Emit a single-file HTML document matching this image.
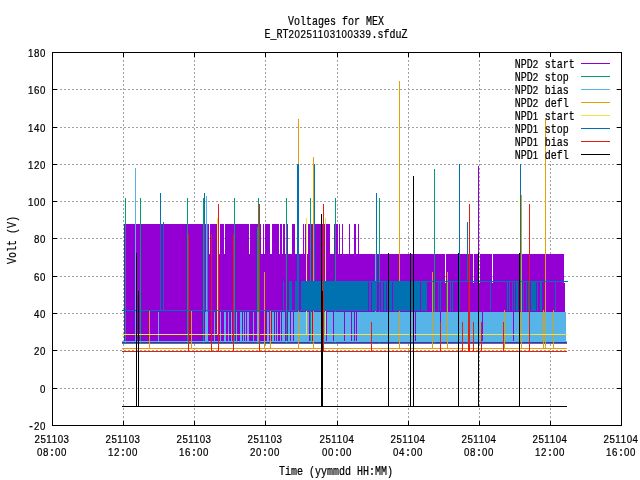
<!DOCTYPE html>
<html lang="en">
<head>
<meta charset="utf-8">
<title>Voltages for MEX</title>
<style>
html,body{margin:0;padding:0;background:#fff;}
body{width:640px;height:480px;overflow:hidden;}
svg{display:block;}
svg text .d{font-family:"Liberation Sans", sans-serif;font-size:9.7px;letter-spacing:0.6px;}
svg text{font-family:"Liberation Mono", monospace;font-size:10px;fill:#000;stroke:#000;stroke-width:0.2px;}
</style>
</head>
<body>
<svg width="640" height="480" viewBox="0 0 640 480">
<rect x="0" y="0" width="640" height="480" fill="#fff"/>
<g shape-rendering="crispEdges" stroke="#a0a0a0" stroke-width="1" stroke-dasharray="2 2" fill="none">
<line x1="123.5" y1="52" x2="123.5" y2="425" />
<line x1="194.5" y1="52" x2="194.5" y2="425" />
<line x1="265.5" y1="52" x2="265.5" y2="425" />
<line x1="337.5" y1="52" x2="337.5" y2="425" />
<line x1="408.5" y1="52" x2="408.5" y2="425" />
<line x1="479.5" y1="52" x2="479.5" y2="425" />
<line x1="550.5" y1="52" x2="550.5" y2="425" />
<line x1="52" y1="89.5" x2="621" y2="89.5" />
<line x1="52" y1="127.5" x2="621" y2="127.5" />
<line x1="52" y1="164.5" x2="621" y2="164.5" />
<line x1="52" y1="201.5" x2="621" y2="201.5" />
<line x1="52" y1="238.5" x2="621" y2="238.5" />
<line x1="52" y1="276.5" x2="621" y2="276.5" />
<line x1="52" y1="313.5" x2="621" y2="313.5" />
<line x1="52" y1="350.5" x2="621" y2="350.5" />
<line x1="52" y1="388.5" x2="621" y2="388.5" />
</g>
<rect x="513" y="57" width="103" height="104" fill="#fff"/>
<g shape-rendering="crispEdges">
<rect x="124" y="224" width="85" height="30" fill="#9400D3"/>
<rect x="210" y="224" width="9" height="30" fill="#9400D3"/>
<rect x="220" y="224" width="4" height="30" fill="#9400D3"/>
<rect x="225" y="224" width="24" height="30" fill="#9400D3"/>
<rect x="250" y="224" width="11" height="30" fill="#9400D3"/>
<rect x="263" y="224" width="1" height="30" fill="#9400D3"/>
<rect x="265" y="224" width="5" height="30" fill="#9400D3"/>
<rect x="272" y="224" width="7" height="30" fill="#9400D3"/>
<rect x="280" y="224" width="2" height="30" fill="#9400D3"/>
<rect x="283" y="224" width="2" height="30" fill="#9400D3"/>
<rect x="286" y="224" width="2" height="30" fill="#9400D3"/>
<rect x="292" y="224" width="3" height="30" fill="#9400D3"/>
<rect x="297" y="224" width="2" height="30" fill="#9400D3"/>
<rect x="303" y="224" width="1" height="30" fill="#9400D3"/>
<rect x="305" y="224" width="2" height="30" fill="#9400D3"/>
<rect x="308" y="224" width="22" height="30" fill="#9400D3"/>
<rect x="334" y="224" width="1" height="30" fill="#9400D3"/>
<rect x="336" y="224" width="2" height="30" fill="#9400D3"/>
<rect x="339" y="224" width="1" height="30" fill="#9400D3"/>
<rect x="342" y="224" width="1" height="30" fill="#9400D3"/>
<rect x="349" y="224" width="1" height="30" fill="#9400D3"/>
<rect x="354" y="224" width="2" height="30" fill="#9400D3"/>
<rect x="358" y="224" width="1" height="30" fill="#9400D3"/>
<rect x="124" y="254" width="321" height="29" fill="#9400D3"/>
<rect x="446" y="254" width="27" height="29" fill="#9400D3"/>
<rect x="474" y="254" width="5" height="29" fill="#9400D3"/>
<rect x="480" y="254" width="12" height="29" fill="#9400D3"/>
<rect x="493" y="254" width="71" height="29" fill="#9400D3"/>
<rect x="124" y="283" width="441" height="60" fill="#9400D3"/>
<rect x="478" y="166" width="1" height="88" fill="#9400D3"/>
<rect x="473" y="254" width="1" height="29" fill="#9400D3" fill-opacity="0.15"/>
<rect x="122" y="342" width="445" height="1" fill="#9400D3"/>
<rect x="122" y="343" width="445" height="1" fill="#009E73"/>
<rect x="125" y="198" width="1" height="146" fill="#009E73"/>
<rect x="140" y="198" width="1" height="146" fill="#009E73"/>
<rect x="187" y="198" width="1" height="146" fill="#009E73"/>
<rect x="203" y="198" width="1" height="146" fill="#009E73"/>
<rect x="234" y="198" width="1" height="146" fill="#009E73"/>
<rect x="258" y="198" width="1" height="146" fill="#009E73"/>
<rect x="286" y="198" width="1" height="146" fill="#009E73"/>
<rect x="310" y="198" width="1" height="146" fill="#009E73"/>
<rect x="335" y="198" width="1" height="146" fill="#009E73"/>
<rect x="379" y="198" width="1" height="146" fill="#009E73"/>
<rect x="257" y="227" width="1" height="117" fill="#009E73"/>
<rect x="434" y="169" width="1" height="175" fill="#009E73"/>
<rect x="122" y="341" width="445" height="1" fill="#56B4E9"/>
<rect x="135" y="168" width="1" height="174" fill="#56B4E9"/>
<rect x="206" y="196" width="1" height="146" fill="#56B4E9"/>
<rect x="207" y="224" width="1" height="118" fill="#56B4E9" fill-opacity="0.5"/>
<rect x="375" y="254" width="1" height="88" fill="#56B4E9"/>
<rect x="158" y="312" width="1" height="30" fill="#56B4E9"/>
<rect x="205" y="312" width="1" height="30" fill="#56B4E9"/>
<rect x="206" y="312" width="1" height="30" fill="#56B4E9"/>
<rect x="207" y="312" width="1" height="30" fill="#56B4E9"/>
<rect x="214" y="312" width="1" height="30" fill="#56B4E9"/>
<rect x="220" y="312" width="1" height="30" fill="#56B4E9"/>
<rect x="224" y="312" width="1" height="30" fill="#56B4E9"/>
<rect x="225" y="312" width="1" height="30" fill="#56B4E9"/>
<rect x="228" y="312" width="1" height="30" fill="#56B4E9"/>
<rect x="231" y="312" width="1" height="30" fill="#56B4E9"/>
<rect x="236" y="312" width="1" height="30" fill="#56B4E9"/>
<rect x="240" y="312" width="1" height="30" fill="#56B4E9"/>
<rect x="241" y="312" width="1" height="30" fill="#56B4E9"/>
<rect x="243" y="312" width="1" height="30" fill="#56B4E9"/>
<rect x="245" y="312" width="1" height="30" fill="#56B4E9"/>
<rect x="247" y="312" width="1" height="30" fill="#56B4E9"/>
<rect x="248" y="312" width="1" height="30" fill="#56B4E9"/>
<rect x="253" y="312" width="1" height="30" fill="#56B4E9"/>
<rect x="257" y="312" width="1" height="30" fill="#56B4E9"/>
<rect x="258" y="312" width="1" height="30" fill="#56B4E9"/>
<rect x="267" y="312" width="1" height="30" fill="#56B4E9"/>
<rect x="268" y="312" width="1" height="30" fill="#56B4E9"/>
<rect x="272" y="312" width="1" height="30" fill="#56B4E9"/>
<rect x="273" y="312" width="1" height="30" fill="#56B4E9"/>
<rect x="275" y="312" width="1" height="30" fill="#56B4E9"/>
<rect x="277" y="312" width="1" height="30" fill="#56B4E9"/>
<rect x="280" y="312" width="1" height="30" fill="#56B4E9"/>
<rect x="282" y="312" width="1" height="30" fill="#56B4E9"/>
<rect x="283" y="312" width="1" height="30" fill="#56B4E9"/>
<rect x="284" y="312" width="1" height="30" fill="#56B4E9"/>
<rect x="288" y="312" width="1" height="30" fill="#56B4E9"/>
<rect x="289" y="312" width="1" height="30" fill="#56B4E9"/>
<rect x="291" y="312" width="1" height="30" fill="#56B4E9"/>
<rect x="292" y="312" width="1" height="30" fill="#56B4E9"/>
<rect x="294" y="312" width="15" height="30" fill="#56B4E9"/>
<rect x="311" y="312" width="1" height="30" fill="#56B4E9"/>
<rect x="313" y="312" width="13" height="30" fill="#56B4E9"/>
<rect x="327" y="312" width="6" height="30" fill="#56B4E9"/>
<rect x="334" y="312" width="10" height="30" fill="#56B4E9"/>
<rect x="345" y="312" width="6" height="30" fill="#56B4E9"/>
<rect x="352" y="312" width="2" height="30" fill="#56B4E9"/>
<rect x="355" y="312" width="1" height="30" fill="#56B4E9"/>
<rect x="357" y="312" width="58" height="30" fill="#56B4E9"/>
<rect x="416" y="312" width="66" height="30" fill="#56B4E9"/>
<rect x="483" y="312" width="30" height="30" fill="#56B4E9"/>
<rect x="514" y="312" width="52" height="30" fill="#56B4E9"/>
<rect x="440" y="312" width="1" height="11" fill="#9400D3"/>
<rect x="122" y="348" width="445" height="1" fill="#E69F00"/>
<rect x="149" y="311" width="1" height="38" fill="#E69F00"/>
<rect x="191" y="311" width="1" height="38" fill="#E69F00"/>
<rect x="264" y="272" width="1" height="77" fill="#E69F00"/>
<rect x="270" y="311" width="1" height="38" fill="#E69F00"/>
<rect x="298" y="119" width="1" height="230" fill="#E69F00"/>
<rect x="313" y="157" width="1" height="192" fill="#E69F00"/>
<rect x="399" y="81" width="1" height="268" fill="#E69F00"/>
<rect x="432" y="272" width="1" height="77" fill="#E69F00"/>
<rect x="447" y="272" width="1" height="77" fill="#E69F00"/>
<rect x="504" y="310" width="1" height="39" fill="#E69F00"/>
<rect x="521" y="195" width="1" height="154" fill="#E69F00"/>
<rect x="543" y="310" width="1" height="39" fill="#E69F00"/>
<rect x="545" y="119" width="1" height="230" fill="#E69F00"/>
<rect x="553" y="310" width="1" height="39" fill="#E69F00"/>
<rect x="122" y="334" width="445" height="1" fill="#F0E442"/>
<rect x="217" y="218" width="1" height="117" fill="#F0E442"/>
<rect x="306" y="218" width="1" height="117" fill="#F0E442"/>
<rect x="325" y="218" width="1" height="117" fill="#F0E442"/>
<rect x="122" y="310" width="246" height="1" fill="#0072B2"/>
<rect x="368" y="281" width="200" height="1" fill="#0072B2"/>
<rect x="160" y="193" width="1" height="118" fill="#0072B2"/>
<rect x="163" y="222" width="1" height="89" fill="#0072B2"/>
<rect x="204" y="193" width="1" height="118" fill="#0072B2"/>
<rect x="297" y="164" width="1" height="147" fill="#0072B2"/>
<rect x="298" y="164" width="1" height="147" fill="#0072B2"/>
<rect x="314" y="164" width="1" height="147" fill="#0072B2"/>
<rect x="376" y="193" width="1" height="118" fill="#0072B2"/>
<rect x="459" y="164" width="1" height="147" fill="#0072B2"/>
<rect x="520" y="164" width="1" height="147" fill="#0072B2"/>
<rect x="467" y="222" width="1" height="60" fill="#0072B2"/>
<rect x="468" y="254" width="1" height="58" fill="#E51E10" fill-opacity="0.45"/>
<rect x="283" y="281" width="1" height="30" fill="#0072B2"/>
<rect x="289" y="281" width="1" height="30" fill="#0072B2"/>
<rect x="290" y="281" width="1" height="30" fill="#0072B2"/>
<rect x="291" y="281" width="1" height="30" fill="#0072B2"/>
<rect x="295" y="281" width="1" height="30" fill="#0072B2"/>
<rect x="296" y="281" width="1" height="30" fill="#0072B2"/>
<rect x="297" y="281" width="1" height="30" fill="#0072B2"/>
<rect x="298" y="281" width="1" height="30" fill="#0072B2"/>
<rect x="301" y="281" width="1" height="30" fill="#0072B2"/>
<rect x="302" y="281" width="1" height="30" fill="#0072B2"/>
<rect x="303" y="281" width="1" height="30" fill="#0072B2"/>
<rect x="304" y="281" width="1" height="30" fill="#0072B2"/>
<rect x="305" y="281" width="1" height="30" fill="#0072B2"/>
<rect x="306" y="281" width="1" height="30" fill="#0072B2"/>
<rect x="307" y="281" width="1" height="30" fill="#0072B2"/>
<rect x="308" y="281" width="1" height="30" fill="#0072B2"/>
<rect x="309" y="281" width="1" height="30" fill="#0072B2"/>
<rect x="310" y="281" width="1" height="30" fill="#0072B2"/>
<rect x="311" y="281" width="1" height="30" fill="#0072B2"/>
<rect x="312" y="281" width="1" height="30" fill="#0072B2"/>
<rect x="313" y="281" width="1" height="30" fill="#0072B2"/>
<rect x="314" y="281" width="1" height="30" fill="#0072B2"/>
<rect x="315" y="281" width="1" height="30" fill="#0072B2"/>
<rect x="316" y="281" width="1" height="30" fill="#0072B2"/>
<rect x="317" y="281" width="1" height="30" fill="#0072B2"/>
<rect x="318" y="281" width="1" height="30" fill="#0072B2"/>
<rect x="319" y="281" width="1" height="30" fill="#0072B2"/>
<rect x="320" y="281" width="1" height="30" fill="#0072B2"/>
<rect x="321" y="281" width="1" height="30" fill="#0072B2"/>
<rect x="322" y="281" width="1" height="30" fill="#0072B2"/>
<rect x="323" y="281" width="1" height="30" fill="#0072B2"/>
<rect x="324" y="281" width="1" height="30" fill="#0072B2"/>
<rect x="325" y="281" width="1" height="30" fill="#0072B2"/>
<rect x="326" y="281" width="1" height="30" fill="#0072B2"/>
<rect x="327" y="281" width="1" height="30" fill="#0072B2"/>
<rect x="328" y="281" width="1" height="30" fill="#0072B2"/>
<rect x="329" y="281" width="1" height="30" fill="#0072B2"/>
<rect x="330" y="281" width="1" height="30" fill="#0072B2"/>
<rect x="331" y="281" width="1" height="30" fill="#0072B2"/>
<rect x="332" y="281" width="1" height="30" fill="#0072B2"/>
<rect x="333" y="281" width="1" height="30" fill="#0072B2"/>
<rect x="334" y="281" width="1" height="30" fill="#0072B2"/>
<rect x="335" y="281" width="1" height="30" fill="#0072B2"/>
<rect x="336" y="281" width="1" height="30" fill="#0072B2"/>
<rect x="337" y="281" width="1" height="30" fill="#0072B2"/>
<rect x="338" y="281" width="1" height="30" fill="#0072B2"/>
<rect x="339" y="281" width="1" height="30" fill="#0072B2"/>
<rect x="340" y="281" width="1" height="30" fill="#0072B2"/>
<rect x="341" y="281" width="1" height="30" fill="#0072B2"/>
<rect x="342" y="281" width="1" height="30" fill="#0072B2"/>
<rect x="343" y="281" width="1" height="30" fill="#0072B2"/>
<rect x="344" y="281" width="1" height="30" fill="#0072B2"/>
<rect x="345" y="281" width="1" height="30" fill="#0072B2"/>
<rect x="346" y="281" width="1" height="30" fill="#0072B2"/>
<rect x="347" y="281" width="1" height="30" fill="#0072B2"/>
<rect x="348" y="281" width="1" height="30" fill="#0072B2"/>
<rect x="349" y="281" width="1" height="30" fill="#0072B2"/>
<rect x="350" y="281" width="1" height="30" fill="#0072B2"/>
<rect x="351" y="281" width="1" height="30" fill="#0072B2"/>
<rect x="352" y="281" width="1" height="30" fill="#0072B2"/>
<rect x="353" y="281" width="1" height="30" fill="#0072B2"/>
<rect x="354" y="281" width="1" height="30" fill="#0072B2"/>
<rect x="355" y="281" width="1" height="30" fill="#0072B2"/>
<rect x="356" y="281" width="1" height="30" fill="#0072B2"/>
<rect x="357" y="281" width="1" height="30" fill="#0072B2"/>
<rect x="358" y="281" width="1" height="30" fill="#0072B2"/>
<rect x="359" y="281" width="1" height="30" fill="#0072B2"/>
<rect x="360" y="281" width="1" height="30" fill="#0072B2"/>
<rect x="361" y="281" width="1" height="30" fill="#0072B2"/>
<rect x="362" y="281" width="1" height="30" fill="#0072B2"/>
<rect x="363" y="281" width="1" height="30" fill="#0072B2"/>
<rect x="364" y="281" width="1" height="30" fill="#0072B2"/>
<rect x="365" y="281" width="1" height="30" fill="#0072B2"/>
<rect x="366" y="281" width="1" height="30" fill="#0072B2"/>
<rect x="367" y="281" width="1" height="30" fill="#0072B2"/>
<rect x="369" y="281" width="1" height="30" fill="#0072B2"/>
<rect x="370" y="281" width="1" height="30" fill="#0072B2"/>
<rect x="372" y="281" width="1" height="30" fill="#0072B2"/>
<rect x="373" y="281" width="1" height="30" fill="#0072B2"/>
<rect x="374" y="281" width="1" height="30" fill="#0072B2"/>
<rect x="375" y="281" width="1" height="30" fill="#0072B2"/>
<rect x="376" y="281" width="1" height="30" fill="#0072B2"/>
<rect x="379" y="281" width="1" height="30" fill="#0072B2"/>
<rect x="381" y="281" width="1" height="30" fill="#0072B2"/>
<rect x="382" y="281" width="1" height="30" fill="#0072B2"/>
<rect x="384" y="281" width="1" height="30" fill="#0072B2"/>
<rect x="385" y="281" width="1" height="30" fill="#0072B2"/>
<rect x="387" y="281" width="1" height="30" fill="#0072B2"/>
<rect x="389" y="281" width="1" height="30" fill="#0072B2"/>
<rect x="390" y="281" width="1" height="30" fill="#0072B2"/>
<rect x="391" y="281" width="1" height="30" fill="#0072B2"/>
<rect x="393" y="281" width="1" height="30" fill="#0072B2"/>
<rect x="394" y="281" width="1" height="30" fill="#0072B2"/>
<rect x="395" y="281" width="1" height="30" fill="#0072B2"/>
<rect x="396" y="281" width="1" height="30" fill="#0072B2"/>
<rect x="397" y="281" width="1" height="30" fill="#0072B2"/>
<rect x="398" y="281" width="1" height="30" fill="#0072B2"/>
<rect x="399" y="281" width="1" height="30" fill="#0072B2"/>
<rect x="400" y="281" width="1" height="30" fill="#0072B2"/>
<rect x="401" y="281" width="1" height="30" fill="#0072B2"/>
<rect x="402" y="281" width="1" height="30" fill="#0072B2"/>
<rect x="403" y="281" width="1" height="30" fill="#0072B2"/>
<rect x="404" y="281" width="1" height="30" fill="#0072B2"/>
<rect x="405" y="281" width="1" height="30" fill="#0072B2"/>
<rect x="406" y="281" width="1" height="30" fill="#0072B2"/>
<rect x="407" y="281" width="1" height="30" fill="#0072B2"/>
<rect x="408" y="281" width="1" height="30" fill="#0072B2"/>
<rect x="409" y="281" width="1" height="30" fill="#0072B2"/>
<rect x="410" y="281" width="1" height="30" fill="#0072B2"/>
<rect x="411" y="281" width="1" height="30" fill="#0072B2"/>
<rect x="412" y="281" width="1" height="30" fill="#0072B2"/>
<rect x="413" y="281" width="1" height="30" fill="#0072B2"/>
<rect x="414" y="281" width="1" height="30" fill="#0072B2"/>
<rect x="415" y="281" width="1" height="30" fill="#0072B2"/>
<rect x="416" y="281" width="1" height="30" fill="#0072B2"/>
<rect x="417" y="281" width="1" height="30" fill="#0072B2"/>
<rect x="418" y="281" width="1" height="30" fill="#0072B2"/>
<rect x="419" y="281" width="1" height="30" fill="#0072B2"/>
<rect x="421" y="281" width="1" height="30" fill="#0072B2"/>
<rect x="422" y="281" width="1" height="30" fill="#0072B2"/>
<rect x="423" y="281" width="1" height="30" fill="#0072B2"/>
<rect x="424" y="281" width="1" height="30" fill="#0072B2"/>
<rect x="425" y="281" width="1" height="30" fill="#0072B2"/>
<rect x="426" y="281" width="1" height="30" fill="#0072B2"/>
<rect x="433" y="281" width="1" height="30" fill="#0072B2"/>
<rect x="438" y="281" width="1" height="30" fill="#0072B2"/>
<rect x="440" y="281" width="1" height="30" fill="#0072B2"/>
<rect x="446" y="281" width="1" height="30" fill="#0072B2"/>
<rect x="450" y="281" width="1" height="30" fill="#0072B2"/>
<rect x="452" y="281" width="1" height="30" fill="#0072B2"/>
<rect x="459" y="281" width="1" height="30" fill="#0072B2"/>
<rect x="490" y="281" width="1" height="30" fill="#0072B2"/>
<rect x="507" y="281" width="1" height="30" fill="#0072B2"/>
<rect x="509" y="281" width="1" height="30" fill="#0072B2"/>
<rect x="512" y="281" width="1" height="30" fill="#0072B2"/>
<rect x="514" y="281" width="1" height="30" fill="#0072B2"/>
<rect x="516" y="281" width="1" height="30" fill="#0072B2"/>
<rect x="517" y="281" width="1" height="30" fill="#0072B2"/>
<rect x="520" y="281" width="1" height="30" fill="#0072B2"/>
<rect x="523" y="281" width="1" height="30" fill="#0072B2"/>
<rect x="526" y="281" width="1" height="30" fill="#0072B2"/>
<rect x="528" y="281" width="1" height="30" fill="#0072B2"/>
<rect x="531" y="281" width="1" height="30" fill="#0072B2"/>
<rect x="532" y="281" width="1" height="30" fill="#0072B2"/>
<rect x="533" y="281" width="1" height="30" fill="#0072B2"/>
<rect x="534" y="281" width="1" height="30" fill="#0072B2"/>
<rect x="535" y="281" width="1" height="30" fill="#0072B2"/>
<rect x="537" y="281" width="1" height="30" fill="#0072B2"/>
<rect x="540" y="281" width="1" height="30" fill="#0072B2"/>
<rect x="541" y="281" width="1" height="30" fill="#0072B2"/>
<rect x="555" y="281" width="1" height="30" fill="#0072B2"/>
<rect x="122" y="351" width="445" height="1" fill="#E51E10"/>
<rect x="188" y="234" width="1" height="118" fill="#E51E10"/>
<rect x="211" y="234" width="1" height="118" fill="#E51E10"/>
<rect x="218" y="204" width="1" height="148" fill="#E51E10"/>
<rect x="233" y="234" width="1" height="118" fill="#E51E10"/>
<rect x="259" y="204" width="1" height="148" fill="#E51E10"/>
<rect x="323" y="204" width="1" height="148" fill="#E51E10"/>
<rect x="371" y="322" width="1" height="30" fill="#E51E10"/>
<rect x="440" y="322" width="1" height="30" fill="#E51E10"/>
<rect x="462" y="322" width="1" height="30" fill="#E51E10"/>
<rect x="468" y="312" width="1" height="40" fill="#E51E10"/>
<rect x="469" y="204" width="1" height="148" fill="#E51E10"/>
<rect x="473" y="322" width="1" height="30" fill="#E51E10"/>
<rect x="481" y="322" width="1" height="30" fill="#E51E10"/>
<rect x="503" y="322" width="1" height="30" fill="#E51E10"/>
<rect x="529" y="204" width="1" height="148" fill="#E51E10"/>
<rect x="122" y="406" width="445" height="1" fill="#000000"/>
<rect x="136" y="253" width="1" height="154" fill="#000000"/>
<rect x="138" y="291" width="1" height="116" fill="#000000"/>
<rect x="321" y="214" width="1" height="193" fill="#000000"/>
<rect x="322" y="291" width="1" height="116" fill="#000000"/>
<rect x="388" y="253" width="1" height="154" fill="#000000"/>
<rect x="410" y="253" width="1" height="154" fill="#000000"/>
<rect x="413" y="176" width="1" height="231" fill="#000000"/>
<rect x="458" y="253" width="1" height="154" fill="#000000"/>
<rect x="478" y="253" width="1" height="154" fill="#000000"/>
<rect x="519" y="253" width="1" height="154" fill="#000000"/>
</g>
<g shape-rendering="crispEdges" fill="#000">
<rect x="52" y="52" width="570" height="1"/><rect x="52" y="425" width="570" height="1"/><rect x="52" y="52" width="1" height="374"/><rect x="621" y="52" width="1" height="374"/>
<rect x="123" y="421" width="1" height="5"/><rect x="123" y="52" width="1" height="5"/><rect x="194" y="421" width="1" height="5"/><rect x="194" y="52" width="1" height="5"/><rect x="265" y="421" width="1" height="5"/><rect x="265" y="52" width="1" height="5"/><rect x="337" y="421" width="1" height="5"/><rect x="337" y="52" width="1" height="5"/><rect x="408" y="421" width="1" height="5"/><rect x="408" y="52" width="1" height="5"/><rect x="479" y="421" width="1" height="5"/><rect x="479" y="52" width="1" height="5"/><rect x="550" y="421" width="1" height="5"/><rect x="550" y="52" width="1" height="5"/><rect x="52" y="89" width="5" height="1"/><rect x="617" y="89" width="5" height="1"/><rect x="52" y="127" width="5" height="1"/><rect x="617" y="127" width="5" height="1"/><rect x="52" y="164" width="5" height="1"/><rect x="617" y="164" width="5" height="1"/><rect x="52" y="201" width="5" height="1"/><rect x="617" y="201" width="5" height="1"/><rect x="52" y="238" width="5" height="1"/><rect x="617" y="238" width="5" height="1"/><rect x="52" y="276" width="5" height="1"/><rect x="617" y="276" width="5" height="1"/><rect x="52" y="313" width="5" height="1"/><rect x="617" y="313" width="5" height="1"/><rect x="52" y="350" width="5" height="1"/><rect x="617" y="350" width="5" height="1"/><rect x="52" y="388" width="5" height="1"/><rect x="617" y="388" width="5" height="1"/>
</g>
<g shape-rendering="crispEdges">
<rect x="581" y="63" width="29" height="1" fill="#9400D3"/><rect x="581" y="76" width="29" height="1" fill="#009E73"/><rect x="581" y="89" width="29" height="1" fill="#56B4E9"/><rect x="581" y="102" width="29" height="1" fill="#E69F00"/><rect x="581" y="115" width="29" height="1" fill="#F0E442"/><rect x="581" y="128" width="29" height="1" fill="#0072B2"/><rect x="581" y="141" width="29" height="1" fill="#E51E10"/><rect x="581" y="154" width="29" height="1" fill="#000000"/>
</g>
<g>
<text transform="translate(336,25) scale(1,1.2)" text-anchor="middle">Voltages for MEX</text>
<text transform="translate(336,38) scale(1,1.2)" text-anchor="middle">E_RT<tspan class="d">20251103100339</tspan>.sfduZ</text>
<text transform="translate(46,57) scale(1,1.2)" text-anchor="end"><tspan class="d">180</tspan></text>
<text transform="translate(46,94) scale(1,1.2)" text-anchor="end"><tspan class="d">160</tspan></text>
<text transform="translate(46,132) scale(1,1.2)" text-anchor="end"><tspan class="d">140</tspan></text>
<text transform="translate(46,169) scale(1,1.2)" text-anchor="end"><tspan class="d">120</tspan></text>
<text transform="translate(46,206) scale(1,1.2)" text-anchor="end"><tspan class="d">100</tspan></text>
<text transform="translate(46,243) scale(1,1.2)" text-anchor="end"><tspan class="d">80</tspan></text>
<text transform="translate(46,281) scale(1,1.2)" text-anchor="end"><tspan class="d">60</tspan></text>
<text transform="translate(46,318) scale(1,1.2)" text-anchor="end"><tspan class="d">40</tspan></text>
<text transform="translate(46,355) scale(1,1.2)" text-anchor="end"><tspan class="d">20</tspan></text>
<text transform="translate(46,393) scale(1,1.2)" text-anchor="end"><tspan class="d">0</tspan></text>
<text transform="translate(46,430) scale(1,1.2)" text-anchor="end">-<tspan class="d">20</tspan></text>
<text transform="translate(52,443) scale(1,1.2)" text-anchor="middle"><tspan class="d">251103</tspan></text>
<text transform="translate(52,456) scale(1,1.2)" text-anchor="middle"><tspan class="d">08</tspan>:<tspan class="d">00</tspan></text>
<text transform="translate(123,443) scale(1,1.2)" text-anchor="middle"><tspan class="d">251103</tspan></text>
<text transform="translate(123,456) scale(1,1.2)" text-anchor="middle"><tspan class="d">12</tspan>:<tspan class="d">00</tspan></text>
<text transform="translate(194,443) scale(1,1.2)" text-anchor="middle"><tspan class="d">251103</tspan></text>
<text transform="translate(194,456) scale(1,1.2)" text-anchor="middle"><tspan class="d">16</tspan>:<tspan class="d">00</tspan></text>
<text transform="translate(265,443) scale(1,1.2)" text-anchor="middle"><tspan class="d">251103</tspan></text>
<text transform="translate(265,456) scale(1,1.2)" text-anchor="middle"><tspan class="d">20</tspan>:<tspan class="d">00</tspan></text>
<text transform="translate(337,443) scale(1,1.2)" text-anchor="middle"><tspan class="d">251104</tspan></text>
<text transform="translate(337,456) scale(1,1.2)" text-anchor="middle"><tspan class="d">00</tspan>:<tspan class="d">00</tspan></text>
<text transform="translate(408,443) scale(1,1.2)" text-anchor="middle"><tspan class="d">251104</tspan></text>
<text transform="translate(408,456) scale(1,1.2)" text-anchor="middle"><tspan class="d">04</tspan>:<tspan class="d">00</tspan></text>
<text transform="translate(479,443) scale(1,1.2)" text-anchor="middle"><tspan class="d">251104</tspan></text>
<text transform="translate(479,456) scale(1,1.2)" text-anchor="middle"><tspan class="d">08</tspan>:<tspan class="d">00</tspan></text>
<text transform="translate(550,443) scale(1,1.2)" text-anchor="middle"><tspan class="d">251104</tspan></text>
<text transform="translate(550,456) scale(1,1.2)" text-anchor="middle"><tspan class="d">12</tspan>:<tspan class="d">00</tspan></text>
<text transform="translate(621,443) scale(1,1.2)" text-anchor="middle"><tspan class="d">251104</tspan></text>
<text transform="translate(621,456) scale(1,1.2)" text-anchor="middle"><tspan class="d">16</tspan>:<tspan class="d">00</tspan></text>
<text transform="translate(336,475) scale(1,1.2)" text-anchor="middle">Time (yymmdd HH:MM)</text>
<text transform="translate(16,240) rotate(-90) scale(1,1.2)" text-anchor="middle">Volt (V)</text>
<text transform="translate(514.7,68) scale(1,1.2)" text-anchor="start">NPD<tspan class="d">2</tspan> start</text>
<text transform="translate(514.7,81) scale(1,1.2)" text-anchor="start">NPD<tspan class="d">2</tspan> stop</text>
<text transform="translate(514.7,94) scale(1,1.2)" text-anchor="start">NPD<tspan class="d">2</tspan> bias</text>
<text transform="translate(514.7,107) scale(1,1.2)" text-anchor="start">NPD<tspan class="d">2</tspan> defl</text>
<text transform="translate(514.7,120) scale(1,1.2)" text-anchor="start">NPD<tspan class="d">1</tspan> start</text>
<text transform="translate(514.7,133) scale(1,1.2)" text-anchor="start">NPD<tspan class="d">1</tspan> stop</text>
<text transform="translate(514.7,146) scale(1,1.2)" text-anchor="start">NPD<tspan class="d">1</tspan> bias</text>
<text transform="translate(514.7,159) scale(1,1.2)" text-anchor="start">NPD<tspan class="d">1</tspan> defl</text>
</g>
</svg>
</body>
</html>
